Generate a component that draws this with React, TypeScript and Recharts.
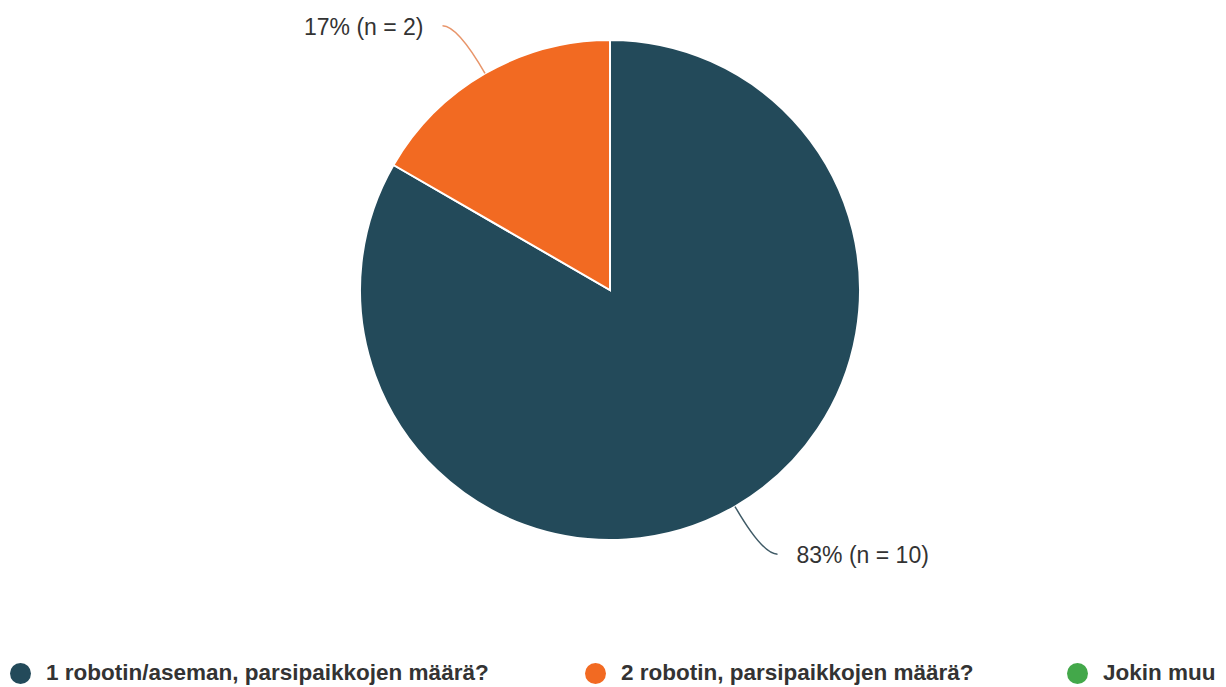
import React from "react";
import { PieChart, Pie, Cell, Legend } from "recharts";

const categories = [
  "1 robotin/aseman, parsipaikkojen määrä?",
  "2 robotin, parsipaikkojen määrä?",
  "Jokin muu",
];
const counts = [10, 2, 0];
const colors = ["#234a5a", "#f26a22", "#43a84a"];
const lineColors = ["#3f5a66", "#e8956a", "#43a84a"];

const data = categories.map((name, i) => ({ name, value: counts[i] }));
const total = counts.reduce((a, b) => a + b, 0);

const FONT = "'Liberation Sans', Arial, sans-serif";
const RAD = Math.PI / 180;

const renderLabel = (props: any) => {
  const { cx, cy, midAngle, outerRadius, value, index } = props;
  if (!value) return null;
  const cos = Math.cos(-midAngle * RAD);
  const sin = Math.sin(-midAngle * RAD);
  const sx = cx + outerRadius * cos;
  const sy = cy + outerRadius * sin;
  const mx = cx + (outerRadius + 55) * cos;
  const my = cy + (outerRadius + 55) * sin;
  const dir = cos >= 0 ? 1 : -1;
  const ex = mx + dir * 15;
  const ey = my;
  const pct = Math.round((value / total) * 100);
  return (
    <g>
      <path
        d={`M${sx},${sy} Q${mx},${my} ${ex},${ey}`}
        stroke={lineColors[index]}
        strokeWidth={1.5}
        fill="none"
      />
      <text
        x={ex + dir * 19}
        y={ey + 1}
        textAnchor={dir > 0 ? "start" : "end"}
        dominantBaseline="central"
        fill="#333333"
        fontSize={23}
        fontFamily={FONT}
      >
        {`${pct}% (n = ${value})`}
      </text>
    </g>
  );
};

const legendLeft = [10, 585, 1067];

const LegendContent = () => (
  <div style={{ position: "relative", width: 1226, height: 30 }}>
    {categories.map((c, i) => (
      <div
        key={c}
        style={{
          position: "absolute",
          left: legendLeft[i],
          top: 0,
          display: "flex",
          alignItems: "center",
          fontFamily: FONT,
          fontWeight: "bold",
          fontSize: 22.5,
          color: "#333333",
          whiteSpace: "nowrap",
        }}
      >
        <span
          style={{
            display: "inline-block",
            width: 21,
            height: 21,
            borderRadius: "50%",
            background: colors[i],
            marginRight: 15,
          }}
        />
        <span>{c}</span>
      </div>
    ))}
  </div>
);

export default function App() {
  return (
    <div style={{ position: "absolute", left: 0, top: 0, width: 1226, height: 687, background: "#fff" }}>
      <PieChart width={1226} height={687} margin={{ top: 0, right: 0, bottom: 0, left: 0 }}>
        <Pie
          data={data}
          dataKey="value"
          nameKey="name"
          cx={610}
          cy={290}
          outerRadius={250}
          startAngle={90}
          endAngle={-270}
          stroke="#ffffff"
          strokeWidth={2}
          label={renderLabel}
          labelLine={false}
          isAnimationActive={false}
        >
          {data.map((d, i) => (
            <Cell key={d.name} fill={colors[i]} />
          ))}
        </Pie>
        <Legend
          content={<LegendContent />}
          wrapperStyle={{ position: "absolute", left: 0, top: 660, width: 1226 }}
        />
      </PieChart>
    </div>
  );
}
